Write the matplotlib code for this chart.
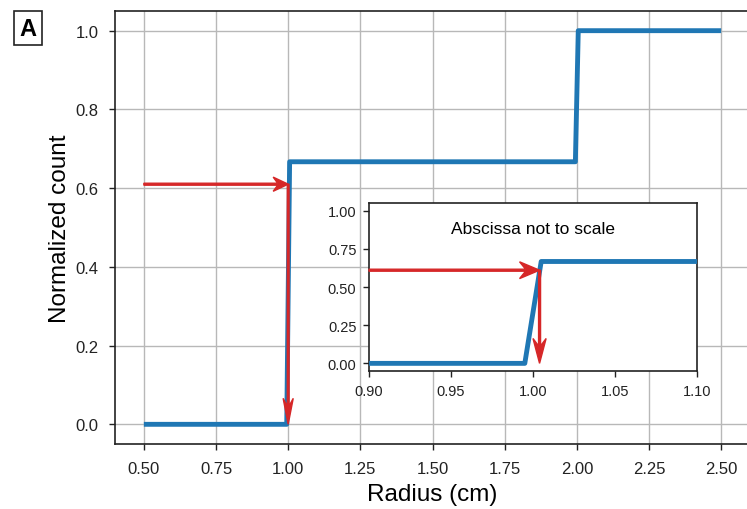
import matplotlib
matplotlib.use("Agg")
import matplotlib.pyplot as plt

plt.rcParams['font.family'] = ['Liberation Sans', 'DejaVu Sans']

# cumulative normalized count vs radius
radius = [0.50, 0.995, 1.005, 1.995, 2.005, 2.50]
count = [0.0, 0.0, 0.667, 0.667, 1.0, 1.0]

# inverse lookup shown with arrows
level = 0.61
hit_main = 1.0
hit_inset = 1.004
arrow_start_main = 0.50
arrow_start_inset = 0.90

main_xticks = [0.50, 0.75, 1.00, 1.25, 1.50, 1.75, 2.00, 2.25, 2.50]
main_yticks = [0.0, 0.2, 0.4, 0.6, 0.8, 1.0]
inset_xticks = [0.90, 0.95, 1.00, 1.05, 1.10]
inset_yticks = [0.00, 0.25, 0.50, 0.75, 1.00]

BLUE = '#1f77b4'
RED = '#d62728'
SPINE = '#222222'

fig = plt.figure(figsize=(7.47, 5.10), dpi=100)
ax = fig.add_axes([115 / 747, 65 / 510, 635 / 747, 433 / 510])

ax.plot(radius, count, color=BLUE, linewidth=3.5, solid_capstyle='butt', zorder=3)
ax.set_xlim(0.4, 2.6)
ax.set_ylim(-0.05, 1.05)
ax.set_xticks(main_xticks, [f'{v:.2f}' for v in main_xticks])
ax.set_yticks(main_yticks, [f'{v:.1f}' for v in main_yticks])
ax.grid(True, color='#b8b8b8', linewidth=1.0)
ax.set_axisbelow(True)
ax.tick_params(direction='out', length=4.5, width=1.0, colors=SPINE, labelsize=12, pad=7.5)
for s in ax.spines.values():
    s.set_color(SPINE)
    s.set_linewidth(1.2)
ax.set_xlabel('Radius (cm)', fontsize=17.5, labelpad=5)
ax.set_ylabel('Normalized count', fontsize=17.5, labelpad=3)

# main arrows (head sizes in data units, per axis)
ax.arrow(arrow_start_main, level, hit_main - arrow_start_main, 0, width=0.005,
         head_width=0.036, head_length=0.052, overhang=0.3, length_includes_head=True,
         color=RED, zorder=4)
ax.arrow(hit_main, level, 0, -level, width=0.006,
         head_width=0.035, head_length=0.066, overhang=0.3, length_includes_head=True,
         color=RED, zorder=4)

fig.text(28 / 747, 1 - 29 / 510, 'A', fontsize=17, fontweight='bold', ha='center', va='center',
         bbox=dict(boxstyle='square,pad=0.24', facecolor='white', edgecolor=SPINE, linewidth=1.2))

# inset zoom
ins = fig.add_axes([369 / 747, 138 / 510, 328 / 747, 168 / 510])
ins.plot(radius, count, color=BLUE, linewidth=3.5, solid_capstyle='butt', zorder=3)
ins.set_xlim(0.90, 1.10)
ins.set_ylim(-0.05, 1.05)
ins.set_xticks(inset_xticks, [f'{v:.2f}' for v in inset_xticks])
ins.set_yticks(inset_yticks, [f'{v:.2f}' for v in inset_yticks])
ins.tick_params(direction='out', length=4, width=1.0, colors=SPINE, labelsize=10.5, pad=5)
for s in ins.spines.values():
    s.set_color(SPINE)
    s.set_linewidth(1.2)
ins.text(0.5, 0.85, 'Abscissa not to scale', transform=ins.transAxes, ha='center', va='center',
         fontsize=12.5)
ins.arrow(arrow_start_inset, level, hit_inset - arrow_start_inset, 0, width=0.013,
          head_width=0.11, head_length=0.0122, overhang=0.3, length_includes_head=True,
          color=RED, zorder=4, clip_on=False)
ins.arrow(hit_inset, level, 0, -level, width=0.0012,
          head_width=0.008, head_length=0.163, overhang=0.3, length_includes_head=True,
          color=RED, zorder=4)

fig.savefig('out.png', dpi=100)
